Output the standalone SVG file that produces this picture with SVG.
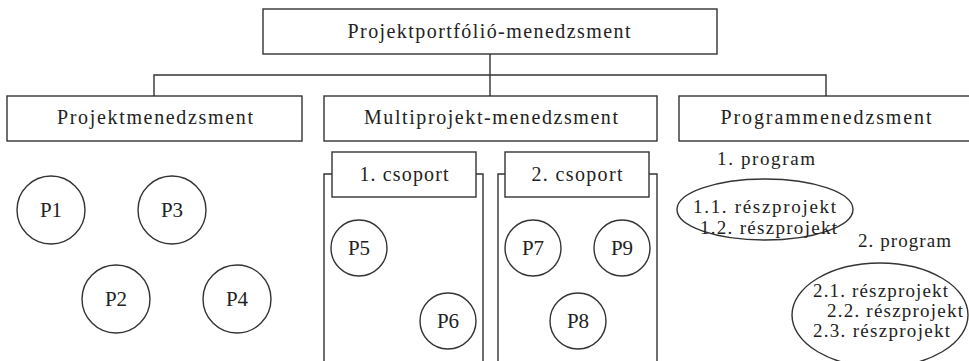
<svg xmlns="http://www.w3.org/2000/svg" width="969" height="361" viewBox="0 0 969 361" font-family="'Liberation Serif', 'Times New Roman', serif">
<style>
  .box { fill: #fff; stroke: #333; stroke-width: 1.4; }
  .ln { fill: none; stroke: #333; stroke-width: 1.4; }
  .t { font-family: 'Liberation Serif', 'Times New Roman', serif; fill: #222; }
  .big { font-size: 20px; text-anchor: middle; }
  .mid { font-size: 19px; }
  .p { font-size: 21px; text-anchor: middle; }
</style>
<rect width="969" height="361" fill="#fff"/>
<g id="connectors">
  <path class="ln" d="M490,54 V96 M154,96 V75 H826 V96"/>
</g>
<g id="portfolio">
  <rect class="box" x="263" y="9" width="454" height="45"/>
  <text class="t big" x="489" y="38" textLength="283" lengthAdjust="spacing">Projektportfólió-menedzsment</text>
</g>
<g id="projektmenedzsment">
  <rect class="box" x="7" y="96" width="295" height="45"/>
  <text class="t big" x="155" y="124" textLength="196" lengthAdjust="spacing">Projektmenedzsment</text>
</g>
<g id="multiprojekt">
  <rect class="box" x="324" y="96" width="333" height="45"/>
  <text class="t big" x="491" y="124" textLength="254" lengthAdjust="spacing">Multiprojekt-menedzsment</text>
</g>
<g id="programmenedzsment">
  <rect class="box" x="679" y="96" width="300" height="45"/>
  <text class="t big" x="826" y="124" textLength="211" lengthAdjust="spacing">Programmenedzsment</text>
</g>
<g id="p1"><circle class="box" cx="51" cy="210" r="34"/><text class="t p" x="51" y="217">P1</text></g>
<g id="p3"><circle class="box" cx="172" cy="210" r="34"/><text class="t p" x="172" y="217">P3</text></g>
<g id="p2"><circle class="box" cx="116" cy="299" r="34"/><text class="t p" x="116" y="306">P2</text></g>
<g id="p4"><circle class="box" cx="237" cy="299" r="34"/><text class="t p" x="237" y="306">P4</text></g>
<g id="csoport1">
  <path class="ln" d="M324,361 V174 H332 M476,174 H483 V361"/>
  <rect class="box" x="332" y="152" width="144" height="45"/>
  <text class="t big" x="404" y="181" textLength="89" lengthAdjust="spacing">1. csoport</text>
</g>
<g id="csoport2">
  <path class="ln" d="M498,361 V174 H505 M649,174 H657 V361"/>
  <rect class="box" x="505" y="152" width="144" height="45"/>
  <text class="t big" x="577" y="181" textLength="91" lengthAdjust="spacing">2. csoport</text>
</g>
<g id="p5"><circle class="box" cx="359" cy="248" r="28"/><text class="t p" x="359" y="255">P5</text></g>
<g id="p6"><circle class="box" cx="448" cy="321" r="28"/><text class="t p" x="448" y="328">P6</text></g>
<g id="p7"><circle class="box" cx="533" cy="248" r="28"/><text class="t p" x="533" y="255">P7</text></g>
<g id="p9"><circle class="box" cx="622" cy="248" r="28"/><text class="t p" x="622" y="255">P9</text></g>
<g id="p8"><circle class="box" cx="578" cy="321" r="28"/><text class="t p" x="578" y="328">P8</text></g>
<g id="program1">
  <text class="t mid" x="717" y="165" textLength="98" lengthAdjust="spacing">1. program</text>
  <ellipse class="box" cx="765" cy="209.5" rx="88" ry="30.5"/>
  <text class="t mid" x="693" y="213" textLength="143" lengthAdjust="spacing">1.1. részprojekt</text>
  <text class="t mid" x="700" y="234" textLength="137" lengthAdjust="spacing">1.2. részprojekt</text>
</g>
<g id="program2">
  <text class="t mid" x="858" y="247" textLength="93" lengthAdjust="spacing">2. program</text>
  <ellipse class="box" cx="880" cy="315" rx="88" ry="52"/>
  <text class="t mid" x="813" y="297" textLength="135" lengthAdjust="spacing">2.1. részprojekt</text>
  <text class="t mid" x="827" y="317" textLength="136" lengthAdjust="spacing">2.2. részprojekt</text>
  <text class="t mid" x="813" y="337" textLength="137" lengthAdjust="spacing">2.3. részprojekt</text>
</g>
</svg>
